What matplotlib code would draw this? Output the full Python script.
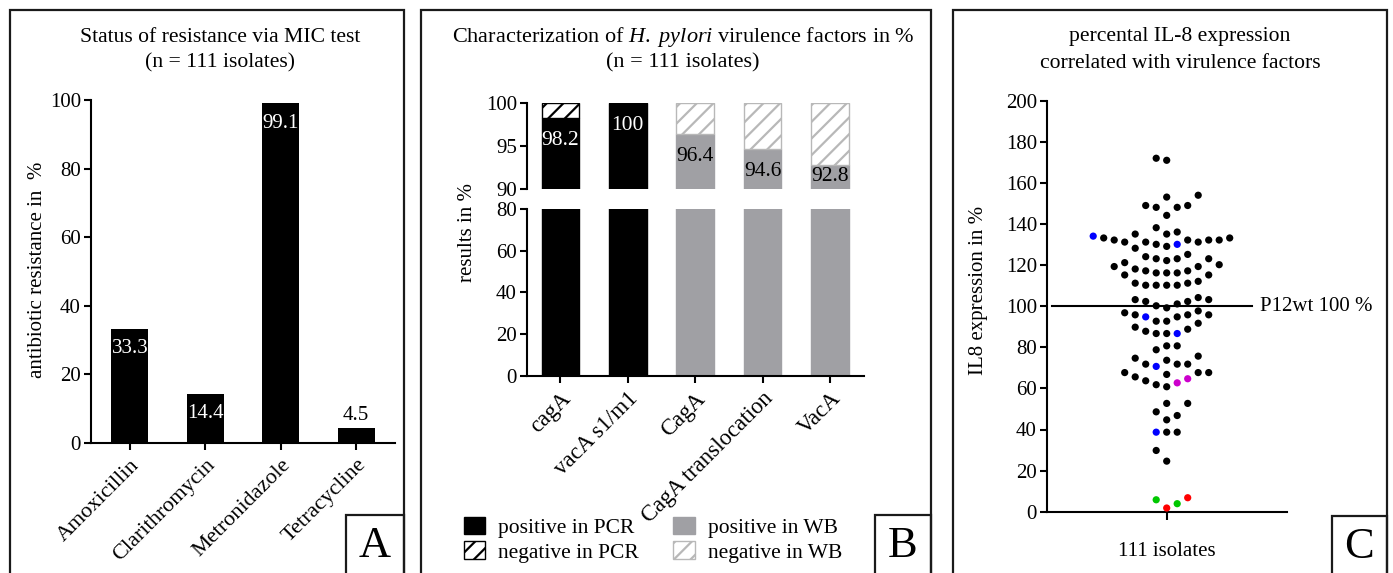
import matplotlib
matplotlib.use('Agg')
import matplotlib.pyplot as plt
import matplotlib.transforms as mtransforms
import numpy as np
from matplotlib.patches import Rectangle, Patch

plt.rcParams['font.family'] = 'Liberation Serif'
plt.rcParams['mathtext.fontset'] = 'custom'
plt.rcParams['mathtext.rm'] = 'Liberation Serif'
plt.rcParams['mathtext.it'] = 'Liberation Serif:italic'
plt.rcParams['hatch.linewidth'] = 1.6
plt.rcParams['font.size'] = 15

# --- data -----------------------------------------------------------------
# A: resistance via MIC test
antibiotics = ['Amoxicillin', 'Clarithromycin', 'Metronidazole', 'Tetracycline']
resistance = [33.3, 14.4, 99.1, 4.5]

# B: virulence factors
factors = ['cagA', 'vacA s1/m1', 'CagA', 'CagA translocation', 'VacA']
factor_method = ['PCR', 'PCR', 'WB', 'WB', 'WB']
factor_positive = [98.2, 100, 96.4, 94.6, 92.8]

# C: IL-8 expression per isolate (% of P12wt)
il8_black = [172.0, 171.0, 149.0, 148.1, 153.1, 154.0, 148.1, 149.0, 144.2,
             138.2, 135.1, 135.1, 136.1,
             133.2, 132.2, 132.2, 131.2, 129.1, 128.2, 130.1, 131.2, 131.2,
             132.2, 132.2, 133.2,
             124.1, 123.1, 122.2, 123.1, 123.1, 125.2,
             121.2, 119.3, 115.2, 118.1, 117.2, 116.2, 116.2, 116.2, 117.2,
             119.3, 120.2, 115.2,
             112.1, 111.2, 110.2, 110.2, 110.2, 110.2, 111.2,
             104.2, 103.2, 102.3, 100.2, 99.2, 101.1, 102.3, 103.2,
             97.7, 95.8, 95.8, 94.8, 92.7, 92.7, 95.8, 96.8,
             89.8, 87.8, 86.7, 86.7, 88.8, 91.7,
             78.8, 80.7, 80.7, 74.7, 73.7, 75.7,
             71.8, 71.8, 71.8,
             65.6, 63.7, 67.7, 66.8, 67.7, 67.7, 61.8, 60.8,
             52.7, 52.7, 48.6, 46.8, 44.7,
             38.7, 38.7, 29.8, 24.6]
il8_blue = [134.1, 130.1, 94.8, 86.7, 70.7, 38.7]
il8_magenta = [62.7, 64.7]
il8_green = [5.8, 3.9]
il8_red = [1.8, 6.8]

GREY = '#a0a0a4'
HATCH_GREY = '#b8b8b8'

W, H = 1393, 573
fig = plt.figure(figsize=(W / 100, H / 100), dpi=100)


def px_axes(x0, y0, x1, y1):
    return fig.add_axes([x0 / W, 1 - y1 / H, (x1 - x0) / W, (y1 - y0) / H])


def frame(x0, y0, x1, y1, lw=1.6):
    fig.add_artist(Rectangle((x0 / W, 1 - y1 / H), (x1 - x0) / W, (y1 - y0) / H,
                             transform=fig.transFigure, fill=False, lw=lw,
                             ec='#1a1a1a'))


def ftext(x, y, s, **kw):
    fig.text(x / W, 1 - y / H, s, ha=kw.pop('ha', 'center'),
             va=kw.pop('va', 'center'), **kw)


def style(ax):
    for s in ['top', 'right']:
        ax.spines[s].set_visible(False)
    for s in ['left', 'bottom']:
        ax.spines[s].set_linewidth(1.5)
    ax.tick_params(width=1.5, length=5, labelsize=15, pad=2)


def swarm_offsets(vals, gap, step):
    # greedy column placement, lowest values first
    vals = np.asarray(vals)
    cols = {}
    slot = np.zeros(len(vals), dtype=int)
    side = {1: 0, -1: 0}
    for i in np.argsort(vals, kind='stable'):
        v = vals[i]
        k = 0
        done = False
        while not done:
            if k == 0:
                cands = [0]
            elif side[1] <= side[-1]:
                cands = [k, -k]
            else:
                cands = [-k, k]
            for c in cands:
                if all(abs(v - w) >= gap for w in cols.get(c, [])):
                    cols.setdefault(c, []).append(v)
                    slot[i] = c
                    if c:
                        side[int(np.sign(c))] += 1
                    done = True
                    break
            k += 1
    return slot * step


# --- panel frames -----------------------------------------------------------
frame(10, 10, 404, 590)
frame(421, 10, 931, 590)
frame(953, 10, 1387, 590)
frame(346, 515, 404, 590)
frame(875, 515, 931, 590)
frame(1332, 516, 1387, 590)
ftext(375, 546, 'A', fontsize=32)
ftext(903, 546, 'B', fontsize=32)
ftext(1359, 547, 'C', fontsize=32)

# --- A ----------------------------------------------------------------------
axA = px_axes(90.7, 100, 395, 443)
style(axA)
xa = np.arange(len(antibiotics))
axA.bar(xa, resistance, width=0.49, color='black')
axA.set_xlim(-0.52, len(antibiotics) - 0.485)
axA.set_ylim(0, 100)
axA.set_yticks(range(0, 101, 20))
axA.set_xticks(xa)
axA.set_xticklabels(antibiotics, rotation=45, ha='right', va='top',
                    rotation_mode='anchor', fontsize=16)
axA.tick_params(axis='x', pad=4)
for xi, v in zip(xa, resistance):
    if v > 10:
        axA.annotate(f'{v:g}', (xi, v), xytext=(0, -14.5), textcoords='offset points',
                     ha='center', va='center', color='white', fontsize=15)
    else:
        axA.annotate(f'{v:g}', (xi, v), xytext=(0, 9), textcoords='offset points',
                     ha='center', va='center', color='black', fontsize=15)
ftext(220, 37, 'Status of resistance via MIC test', fontsize=15.6)
ftext(220, 63, '(n = 111 isolates)', fontsize=15.6)
ftext(38, 270, 'antibiotic resistance in  %', rotation=90)

# --- B (broken axis) ---------------------------------------------------------
axBt = px_axes(526.7, 102.7, 864.3, 189)
axBb = px_axes(526.7, 209, 864.3, 375.7)
xb = np.arange(len(factors))
pos = np.array(factor_positive)
pos_col = ['black' if m == 'PCR' else GREY for m in factor_method]
neg_col = ['black' if m == 'PCR' else HATCH_GREY for m in factor_method]
for ax in (axBt, axBb):
    style(ax)
    ax.bar(xb, pos, width=0.56, color=pos_col, edgecolor=pos_col, linewidth=1)
    ax.bar(xb, 100 - pos, bottom=pos, width=0.56, color='white',
           edgecolor=neg_col, hatch='//', linewidth=1)
    ax.set_xlim(-0.5, len(factors) - 0.49)
axBt.set_ylim(90, 100)
axBt.set_yticks([90, 95, 100])
axBt.spines['bottom'].set_visible(False)
axBt.set_xticks([])
axBb.set_ylim(0, 80)
axBb.set_yticks(range(0, 81, 20))
axBb.set_xticks(xb)
axBb.set_xticklabels(factors, rotation=45, ha='right', va='top',
                     rotation_mode='anchor', fontsize=16.5)
axBb.tick_params(axis='x', pad=4)
for xi, v, m in zip(xb, pos, factor_method):
    axBt.text(xi, max(v - 2.6, 91.4), f'{v:g}', ha='center', va='center',
              color='white' if m == 'PCR' else 'black', fontsize=15.5)
ftext(683, 37, r'Characterization of $\it{H.\ pylori}$ virulence factors in %',
      fontsize=16)
ftext(683, 63, '(n = 111 isolates)', fontsize=16)
ftext(467, 233, 'results in %', rotation=90)

handles = [Patch(facecolor='black', edgecolor='black'),
           Patch(facecolor='white', edgecolor='black', hatch='//'),
           Patch(facecolor=GREY, edgecolor=GREY),
           Patch(facecolor='white', edgecolor=HATCH_GREY, hatch='//')]
labels = ['positive in PCR', 'negative in PCR', 'positive in WB', 'negative in WB']
fig.legend(handles, labels, ncol=2, loc='upper left',
           bbox_to_anchor=(455 / W, 1 - 508 / H), frameon=False, fontsize=15.5,
           handlelength=1.0, handleheight=0.9, handletextpad=0.6,
           columnspacing=1.6, labelspacing=0.15, borderaxespad=0)

# --- C (scatter) ---------------------------------------------------------------
axC = px_axes(1046.7, 100.7, 1286.7, 511.7)
style(axC)
groups = [(il8_black, 'black'), (il8_blue, '#0000ff'), (il8_magenta, '#cc00cc'),
          (il8_green, '#00c800'), (il8_red, '#ff0000')]
vals = np.concatenate([g for g, _ in groups])
cols = sum([[c] * len(g) for g, c in groups], [])
xs = swarm_offsets(vals, gap=6.0, step=0.0875)
axC.scatter(xs, vals, s=27, c=cols, linewidths=0, zorder=3, clip_on=False)
axC.set_xlim(-1, 1)
axC.set_ylim(0, 200)
axC.set_yticks(range(0, 201, 20))
axC.set_xticks([0])
axC.set_xticklabels(['111 isolates'])
axC.tick_params(axis='x', length=6, pad=16)
axC.axhline(100, xmin=0.02, xmax=0.854, color='black', lw=1.5, zorder=2)
tr = mtransforms.blended_transform_factory(axC.transAxes, axC.transData)
axC.text(0.889, 100, 'P12wt 100 %', transform=tr, ha='left', va='center',
         fontsize=15, clip_on=False)
ftext(1180, 37, 'percental IL-8 expression', fontsize=15.6)
ftext(1180, 63, 'correlated with virulence factors', fontsize=15.6)
ftext(978, 290, 'IL8 expression in %', rotation=90)

fig.savefig('out.png', dpi=100)
